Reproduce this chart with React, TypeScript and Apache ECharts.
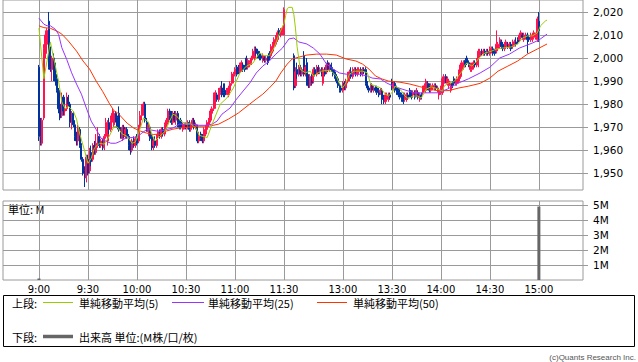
import { useEffect, useRef } from "react";
import * as echarts from "echarts";

// ---------- time slots (category axis) ----------
const toMin = (t: string) => {
  const [h, m] = t.split(":").map(Number);
  return h * 60 + m;
};
const toLabel = (n: number) => `${Math.floor(n / 60)}:${String(n % 60).padStart(2, "0")}`;
const slotRange = (a: string, b: string) => {
  const out: string[] = [];
  for (let n = toMin(a); n <= toMin(b); n++) out.push(toLabel(n));
  return out;
};

const morningSlots = slotRange("8:38", "11:30");
const afternoonSlots = slotRange("12:25", "15:27");
const categories = [...morningSlots, ...afternoonSlots];
const timeLabels = ["9:00", "9:30", "10:00", "10:30", "11:00", "11:30", "13:00", "13:30", "14:00", "14:30", "15:00"];
const priceTicks = [1950, 1960, 1970, 1980, 1990, 2000, 2010, 2020];
const volumeTicks = [1, 2, 3, 4, 5];

const morningStart = "9:00";
const afternoonStart = "12:30";

// [open, close, low, high], one per minute from 9:00
const morningBars: number[][] = [
  [1996,1966,1964,1997],[1966,1963,1962,1974],[1963,1973,1962,1974],[1974,2004,1973,2006],[2002,2010,2000,2012],
  [2006,2012,2004,2013],[2016,1996,1995,2020],[2003,1995,1994,2005],[1995,2000,1990,2001],[2000,1991,1990,2002],
  [1997,1990,1988,1998],[1991,1986,1985,1993],[1986,1978,1976,1987],[1980,1974,1973,1981],[1975,1983,1974,1985],
  [1983,1977,1975,1984],[1977,1978,1975,1980],[1978,1983,1977,1985],[1983,1980,1979,1984],[1980,1972,1970,1981],
  [1972,1976,1969,1977],[1976,1971,1970,1977],[1971,1966,1964,1973],[1967,1964,1962,1968],[1964,1970,1962,1971],
  [1969,1962,1961,1970],[1962,1956,1955,1963],[1956,1950,1949,1957],[1951,1948,1944,1953],[1948,1957,1946,1958],
  [1956,1950,1949,1958],[1951,1960,1950,1961],[1959,1955,1953,1962],[1956,1962,1955,1963],[1962,1959,1958,1964],
  [1959,1963,1958,1967],[1963,1966,1961,1970],[1966,1962,1961,1967],[1962,1964,1961,1965],[1964,1961,1960,1965],
  [1961,1966,1960,1967],[1966,1972,1965,1974],[1964,1972,1962,1973],[1972,1969,1967,1974],[1969,1973,1968,1975],
  [1973,1976,1972,1978],[1971,1976,1970,1977],[1976,1974,1972,1977],[1974,1970,1969,1975],[1976,1969,1968,1979],
  [1969,1967,1965,1970],[1965,1970,1964,1971],[1970,1966,1965,1971],[1966,1969,1965,1970],[1969,1966,1965,1970],
  [1966,1962,1960,1967],[1963,1960,1958,1964],[1960,1964,1959,1965],[1964,1962,1961,1966],[1962,1965,1961,1966],
  [1965,1963,1962,1967],[1964,1970,1963,1971],[1970,1975,1969,1977],[1975,1979,1973,1980],[1976,1980,1975,1981],
  [1980,1973,1972,1981],[1972,1970,1968,1974],[1968,1971,1966,1972],[1970,1965,1964,1971],[1966,1961,1960,1967],
  [1962,1964,1960,1965],[1964,1962,1961,1966],[1962,1966,1961,1967],[1966,1968,1964,1969],[1968,1966,1965,1969],
  [1966,1969,1965,1970],[1969,1967,1966,1970],[1967,1971,1966,1972],[1970,1973,1969,1974],[1972,1977,1971,1978],
  [1977,1975,1973,1978],[1975,1972,1971,1977],[1972,1976,1971,1977],[1976,1973,1972,1977],[1973,1976,1971,1977],
  [1976,1972,1970,1977],[1972,1970,1969,1973],[1973,1970,1969,1974],[1969,1971,1968,1972],[1970,1971,1969,1972],
  [1971,1970,1969,1972],[1970,1972,1969,1973],[1972,1969,1968,1973],[1969,1971,1968,1972],[1971,1973,1970,1974],
  [1973,1970,1969,1974],[1970,1971,1969,1972],[1970,1964,1963,1971],[1964,1966,1963,1968],[1967,1965,1964,1968],
  [1966,1964,1963,1967],[1964,1969,1963,1970],[1967,1970,1966,1971],[1969,1972,1968,1973],[1971,1973,1970,1974],
  [1973,1977,1972,1978],[1976,1978,1975,1979],[1978,1984,1977,1985],[1979,1985,1978,1986],[1984,1982,1981,1985],
  [1982,1986,1981,1987],[1985,1987,1984,1988],[1987,1984,1983,1990],[1986,1985,1983,1989],[1986,1984,1983,1989],
  [1985,1986,1984,1987],[1984,1987,1983,1988],[1986,1989,1985,1990],[1989,1993,1988,1994],[1990,1993,1989,1994],
  [1993,1995,1992,1996],[1996,1993,1992,1997],[1996,1994,1993,1997],[1994,1997,1993,1998],[1995,1998,1994,1999],
  [1997,1995,1994,1998],[1996,1995,1994,1997],[2000,1996,1995,2001],[1996,1999,1995,2000],[1997,1998,1996,1999],
  [1998,2000,1997,2001],[2000,2003,1999,2004],[2000,2004,1999,2005],[2004,2002,2001,2005],[2003,2001,2000,2004],
  [2002,2000,1999,2003],[2001,2000,1999,2002],[1999,2001,1998,2002],[2000,1999,1998,2001],[1999,2000,1998,2001],
  [2000,1998,1997,2001],[2002,2000,1999,2003],[2001,2005,2000,2006],[2003,2006,2002,2007],[2005,2008,2004,2009],
  [2006,2009,2005,2010],[2008,2011,2007,2012],[2012,2010,2009,2013],[2010,2012,2009,2013],[2011,2013,2010,2014],
  [2010,2021,2010,2022],
];

// [open, close, low, high], one per minute from 12:30
const afternoonBars: number[][] = [
  [2001,1987,1986,2002],[1988,1994,1987,1996],[1995,1993,1991,1998],[1993,1996,1992,1997],[1996,1993,1992,1997],
  [1993,1995,1992,1996],[2001,1993,1992,2003],[1994,1996,1992,1997],[1998,1990,1988,2000],[1991,1988,1987,1993],
  [1988,1992,1987,1993],[1992,1989,1988,1993],[1990,1995,1989,1996],[1995,1993,1992,1996],[1993,1996,1992,1997],
  [1996,1994,1993,1997],[1994,1995,1993,1996],[1995,1993,1992,1996],[1989,1995,1988,1996],[1995,1993,1992,1996],
  [1994,1997,1993,1998],[1998,1995,1994,1999],[1995,1997,1994,1998],[1997,1995,1994,1998],[1995,1993,1992,1996],
  [1994,1992,1991,1995],[1992,1990,1989,1993],[1991,1988,1987,1992],[1988,1986,1985,1989],[1987,1986,1985,1988],
  [1986,1989,1985,1990],[1989,1987,1986,1990],[1987,1990,1986,1991],[1990,1993,1989,1994],[1991,1994,1990,1995],
  [1994,1992,1991,1996],[1992,1995,1991,1996],[1994,1995,1993,1996],[1995,1993,1992,1996],[1993,1995,1992,1996],
  [1994,1995,1993,1996],[1995,1993,1992,1996],[1993,1995,1992,1996],[1995,1994,1993,1996],[1995,1989,1988,1996],
  [1989,1987,1986,1990],[1987,1986,1985,1988],[1986,1988,1985,1989],[1988,1986,1985,1989],[1986,1987,1985,1988],
  [1987,1986,1985,1988],[1987,1985,1984,1988],[1986,1984,1983,1987],[1985,1986,1984,1987],[1986,1982,1980,1987],
  [1983,1981,1980,1984],[1981,1984,1980,1985],[1982,1984,1981,1985],[1982,1984,1981,1985],[1984,1983,1982,1985],
  [1990,1987,1986,1991],[1987,1989,1986,1990],[1989,1986,1985,1990],[1987,1985,1984,1988],[1986,1984,1983,1987],
  [1985,1983,1982,1987],[1984,1982,1981,1985],[1984,1981,1980,1985],[1982,1984,1981,1985],[1982,1984,1981,1985],
  [1984,1983,1982,1985],[1986,1984,1983,1987],[1985,1983,1982,1986],[1984,1985,1983,1986],[1985,1983,1982,1986],
  [1984,1986,1983,1987],[1985,1983,1982,1986],[1982,1984,1981,1985],[1984,1983,1982,1985],[1985,1987,1984,1988],
  [1986,1988,1985,1989],[1986,1990,1985,1991],[1989,1987,1986,1990],[1988,1986,1985,1989],[1986,1988,1985,1989],
  [1987,1988,1986,1989],[1987,1988,1986,1989],[1988,1987,1986,1989],[1986,1987,1985,1988],[1984,1986,1982,1987],
  [1985,1987,1984,1988],[1985,1991,1984,1992],[1989,1992,1988,1993],[1992,1990,1989,1993],[1989,1991,1988,1992],
  [1988,1990,1987,1991],[1986,1988,1985,1989],[1989,1988,1987,1990],[1991,1989,1988,1992],[1989,1990,1988,1991],
  [1989,1991,1988,1992],[1990,1994,1989,1995],[1992,1997,1991,1998],[1995,1998,1994,1999],[1996,1998,1995,1999],
  [1999,1997,1996,2000],[2000,1998,1997,2001],[1998,1997,1996,1999],[1995,1997,1994,1998],[1995,1997,1994,1998],
  [1996,1998,1995,1999],[1998,1997,1996,1999],[1997,1999,1996,2000],[1997,2003,1996,2004],[2001,2003,2000,2004],
  [2003,2002,2001,2004],[2002,2003,2001,2004],[2003,2002,2001,2004],[2002,2003,2001,2004],[2003,2002,2001,2004],
  [2002,2004,2001,2005],[2003,2004,2002,2005],[2004,2002,2001,2005],[2003,2002,2001,2004],[2003,2006,2002,2012],
  [2004,2006,2003,2007],[2005,2008,2004,2009],[2007,2005,2004,2008],[2006,2004,2003,2007],[2004,2006,2003,2007],
  [2005,2007,2004,2008],[2006,2005,2004,2007],[2005,2006,2004,2007],[2006,2004,2003,2007],[2005,2007,2004,2008],
  [2006,2007,2005,2008],[2007,2006,2005,2009],[2008,2007,2006,2009],[2008,2010,2007,2011],[2009,2011,2008,2012],
  [2010,2009,2008,2011],[2008,2010,2007,2011],[2009,2010,2008,2011],[2010,2008,2002,2011],[2009,2008,2007,2010],
  [2008,2010,2007,2011],[2008,2010,2007,2011],[2009,2011,2008,2012],[2009,2010,2008,2011],[2008,2017,2007,2018],
  [2016,2012,2007,2020],
];

// moving averages read at sample times: [time, price]
const ma5: [string, number][] = [
  ["9:00",2013],["9:03",1991],["9:07",2007],["9:09",2000],["9:12",1990],["9:14",1981],["9:16",1978],["9:18",1979],
  ["9:21",1977],["9:23",1973.5],["9:25",1967],["9:28",1959.6],["9:30",1954.3],["9:32",1956.5],["9:34",1961],
  ["9:37",1963],["9:40",1962.6],["9:43",1966],["9:46",1970.4],["9:48",1970],["9:51",1967],["9:54",1966],
  ["9:57",1963],["9:59",1963.5],["10:02",1969.6],["10:04",1974],["10:07",1972.3],["10:09",1967],["10:11",1964],
  ["10:14",1966],["10:17",1968],["10:20",1972.6],["10:22",1975.6],["10:24",1975],["10:27",1972.6],["10:30",1971.3],
  ["10:33",1971.5],["10:36",1969.6],["10:38",1966.5],["10:40",1966],["10:43",1965.5],["10:46",1971.3],["10:51",1980],
  ["10:55",1982.6],["10:59",1987],["11:03",1993.5],["11:07",1996.5],["11:11",1997.8],["11:15",2002.2],["11:18",2001],
  ["11:21",2001],["11:24",2004.5],["11:27",2010.4],["11:30",2015],["12:25",2018.5],["12:26",2021.5],["12:27",2022],
  ["12:29",2022],["12:30",2019],["12:31",2013],["12:32",2005],["12:33",2000],["12:34",1995],["12:37",1993.6],
  ["12:40",1994.3],["12:42",1992.2],["12:45",1993.6],["12:47",1994.3],["12:50",1994.6],["12:53",1994.3],
  ["12:56",1992.2],["12:58",1988.7],["13:00",1987.1],["13:02",1989.3],["13:04",1993],["13:07",1994.3],
  ["13:12",1994.3],["13:15",1993.6],["13:17",1988.7],["13:20",1987.8],["13:23",1987.1],["13:26",1984.3],
  ["13:28",1983.5],["13:30",1984.9],["13:32",1987.8],["13:34",1987.1],["13:36",1985.6],["13:38",1983.5],
  ["13:40",1982.4],["13:43",1983.5],["13:46",1983.5],["13:48",1982.6],["13:51",1986.5],["13:54",1987.5],
  ["13:57",1986.9],["14:01",1985.6],["14:02",1987.8],["14:05",1989.3],["14:08",1989.7],["14:10",1991.5],
  ["14:13",1994.3],["14:15",1997.3],["14:16",1997.8],["14:19",1996.5],["14:22",1998.7],["14:24",2000.5],
  ["14:27",2002.2],["14:31",2003],["14:34",2003.9],["14:37",2004.3],["14:40",2004.5],["14:43",2004.8],
  ["14:47",2006.1],["14:50",2008.7],["14:53",2009.6],["14:56",2009.6],["14:59",2010.9],["15:01",2014],
  ["15:04",2016.1],["15:05",2016.5],
];

const ma25: [string, number][] = [
  ["9:00",2017.3],["9:03",2014.7],["9:05",2014],["9:07",2014],["9:10",2012.5],["9:12",2010.3],["9:14",2004.5],
  ["9:17",1999.4],["9:20",1993.6],["9:23",1988.7],["9:26",1984.3],["9:29",1978.3],["9:32",1972.6],["9:35",1969],
  ["9:38",1965.2],["9:41",1963.9],["9:44",1963],["9:47",1963],["9:50",1963.9],["9:53",1965.2],["9:57",1965.5],
  ["10:00",1965.7],["10:03",1967.4],["10:06",1969],["10:09",1968.7],["10:12",1968.3],["10:15",1968.3],
  ["10:18",1969],["10:22",1969.6],["10:26",1971.3],["10:30",1971.3],["10:34",1971.3],["10:38",1970.8],
  ["10:42",1970.8],["10:46",1971.3],["10:49",1972.6],["10:52",1975.6],["10:57",1978.3],["11:01",1982.2],
  ["11:05",1985.7],["11:09",1989.1],["11:13",1993.5],["11:17",1996.5],["11:21",1998.7],["11:25",2001.7],
  ["11:29",2004.3],["12:27",2008.3],["12:30",2008.7],["12:33",2007],["12:38",2006.1],["12:42",2004.3],
  ["12:46",2001.7],["12:50",1997.4],["12:54",1995.2],["12:58",1993.5],["13:02",1993],["13:06",1993],
  ["13:10",1993],["13:15",1992.2],["13:18",1991.3],["13:23",1990.9],["13:27",1989.1],["13:31",1987.8],
  ["13:35",1986.8],["13:40",1985.7],["13:44",1984.8],["13:52",1984.9],["13:58",1984.9],["14:04",1986.5],
  ["14:10",1988.9],["14:17",1991],["14:24",1993.5],["14:30",1996],["14:36",2000],["14:42",2001.7],
  ["14:48",2004.3],["14:56",2006.5],["15:00",2007.8],["15:05",2010.4],
];

const ma50: [string, number][] = [
  ["9:00",2014],["9:03",2013.2],["9:07",2012.9],["9:11",2011.7],["9:14",2010.4],["9:18",2007.4],["9:23",2003],
  ["9:27",1998.7],["9:31",1995.2],["9:35",1990],["9:39",1985.5],["9:43",1980.4],["9:46",1977],["9:48",1976.3],
  ["9:51",1974],["9:54",1971.7],["9:58",1969.6],["10:02",1968.3],["10:06",1967.4],["10:10",1966.8],["10:15",1967],
  ["10:18",1968.3],["10:22",1969.1],["10:26",1969.6],["10:32",1970],["10:38",1970.4],["10:44",1970.4],
  ["10:50",1971.3],["10:56",1973.5],["11:02",1976.1],["11:09",1980],["11:13",1982.2],["11:17",1984.3],
  ["11:21",1987],["11:25",1990],["11:28",1993.5],["12:26",1997.4],["12:29",1999.6],["12:31",2000],
  ["12:38",2001.3],["12:44",2001.7],["12:50",2001.7],["12:56",2001.3],["13:02",1999.6],["13:08",1998.7],
  ["13:12",1997.4],["13:16",1995.2],["13:20",1992.2],["13:24",1990.9],["13:28",1990],["13:35",1989.5],
  ["13:41",1988.7],["13:47",1987.6],["13:53",1986.5],["13:59",1985.7],["14:05",1985.9],["14:11",1987],
  ["14:17",1987.8],["14:24",1989],["14:30",1991.3],["14:35",1994.3],["14:41",1996.5],["14:47",1998.7],
  ["14:53",2001.7],["14:59",2003.9],["15:05",2006.1],
];

// volume in millions: [time, M]
const volume: [string, number][] = [["9:00", 0.1], ["15:00", 4.9]];

// ---------- build ----------
const barMap = new Map<string, number[]>();
morningBars.forEach((b, i) => barMap.set(toLabel(toMin(morningStart) + i), b));
afternoonBars.forEach((b, i) => barMap.set(toLabel(toMin(afternoonStart) + i), b));
const candleData = categories.map((c) => barMap.get(c) ?? ["-", "-", "-", "-"]);

const GRID = "#9a9a9a";
const UP = "#ff1450";
const DOWN = "#00339f";
const C5 = "#99cc00";
const C25 = "#9933ff";
const C50 = "#ff3300";
const isMark = (_i: number, v: string) => timeLabels.includes(v);
const jp = "'Noto Sans CJK JP', sans-serif";
const axisFontFamily = "'DejaVu Sans', sans-serif";

const legendText = (text: string, x: number, y: number) => ({
  type: "text",
  x,
  y,
  style: { text, fill: "#000", fontSize: 11, fontFamily: jp, verticalAlign: "middle", align: "left" },
});
const legendLine = (x1: number, x2: number, y: number, color: string, w: number) => ({
  type: "line",
  shape: { x1, y1: y, x2, y2: y },
  style: { stroke: color, lineWidth: w },
});

const option: any = {
  animation: false,
  backgroundColor: "#fff",
  grid: [
    { left: 3, top: -1, width: 580, height: 191, show: true, borderColor: GRID, borderWidth: 1, backgroundColor: "transparent" },
    { left: 3, top: 201, width: 580, height: 79, show: true, borderColor: GRID, borderWidth: 1, backgroundColor: "transparent" },
  ],
  xAxis: [
    {
      type: "category", gridIndex: 0, data: categories, boundaryGap: false,
      axisLine: { show: false }, axisTick: { show: false }, axisLabel: { show: false },
      splitLine: { show: true, interval: isMark, lineStyle: { color: GRID, width: 1 } },
    },
    {
      type: "category", gridIndex: 1, data: categories, boundaryGap: false,
      axisLine: { show: false }, axisTick: { show: false },
      axisLabel: { show: true, interval: isMark, margin: 4, color: "#000", fontSize: 10, fontFamily: axisFontFamily },
      splitLine: { show: true, interval: isMark, lineStyle: { color: GRID, width: 1 } },
    },
  ],
  yAxis: [
    {
      type: "value", gridIndex: 0, position: "right", min: 1942.7, max: 2025.2, minInterval: 10, maxInterval: 10,
      axisLine: { show: false },
      axisTick: { show: true, length: 5, customValues: priceTicks, lineStyle: { color: GRID } },
      axisLabel: {
        customValues: priceTicks, margin: 10, color: "#000", fontSize: 10.5, fontFamily: axisFontFamily,
        formatter: (v: number) => (v % 10 === 0 && v >= 1950 && v <= 2020 ? v.toLocaleString("en-US") : ""),
      },
      splitLine: { show: true, lineStyle: { color: GRID, width: 1 } },
    },
    {
      type: "value", gridIndex: 1, position: "right", min: 0, max: 5.27, minInterval: 1, maxInterval: 1,
      axisLine: { show: false },
      axisTick: { show: true, length: 5, customValues: volumeTicks, lineStyle: { color: GRID } },
      axisLabel: {
        customValues: volumeTicks, margin: 10, color: "#000", fontSize: 10.5, fontFamily: axisFontFamily,
        formatter: (v: number) => (Number.isInteger(v) && v >= 1 && v <= 5 ? `${v}M` : ""),
      },
      splitLine: { show: true, lineStyle: { color: GRID, width: 1 } },
    },
  ],
  series: [
    {
      type: "candlestick", xAxisIndex: 0, yAxisIndex: 0, data: candleData, barWidth: 1.6,
      itemStyle: { color: UP, color0: DOWN, borderColor: UP, borderColor0: DOWN, borderWidth: 1 },
    },
    { type: "line", xAxisIndex: 0, yAxisIndex: 0, data: ma50, symbol: "none", lineStyle: { color: C50, width: 1 } },
    { type: "line", xAxisIndex: 0, yAxisIndex: 0, data: ma25, symbol: "none", lineStyle: { color: C25, width: 1 } },
    { type: "line", xAxisIndex: 0, yAxisIndex: 0, data: ma5, symbol: "none", lineStyle: { color: C5, width: 1 } },
    { type: "bar", xAxisIndex: 1, yAxisIndex: 1, data: volume, barWidth: 3, itemStyle: { color: "#666" } },
  ],
  graphic: [
    {
      type: "text", x: 8, y: 209,
      style: { text: "単位: M", fill: "#000", fontSize: 11, fontFamily: jp, verticalAlign: "middle" },
    },
    {
      type: "rect", shape: { x: 3.5, y: 295.5, width: 631, height: 51 },
      style: { fill: "none", stroke: "#000", lineWidth: 1 },
    },
    legendText("上段:", 12, 303),
    legendLine(43, 73, 302.5, C5, 1),
    legendText("単純移動平均(5)", 79, 303),
    legendLine(172, 204, 302.5, C25, 1),
    legendText("単純移動平均(25)", 208, 303),
    legendLine(317, 347, 302.5, C50, 1),
    legendText("単純移動平均(50)", 353, 303),
    legendText("下段:", 12, 337),
    legendLine(43, 73, 336.5, "#666", 3.5),
    legendText("出来高 単位:(M株/口/枚)", 79, 337),
    {
      type: "text", x: 636, y: 357.5,
      style: { text: "(c)Quants Research Inc.", fill: "#555", fontSize: 8, fontFamily: "'Liberation Sans', sans-serif", align: "right", verticalAlign: "middle" },
    },
  ],
};

export default function App() {
  const ref = useRef<HTMLDivElement>(null);
  useEffect(() => {
    const chart = echarts.init(ref.current!, null, { renderer: "svg" });
    chart.setOption(option);
    return () => chart.dispose();
  }, []);
  return (
    <div
      ref={ref}
      style={{ position: "fixed", left: 0, top: 0, width: 638, height: 362, background: "#fff" }}
    />
  );
}
